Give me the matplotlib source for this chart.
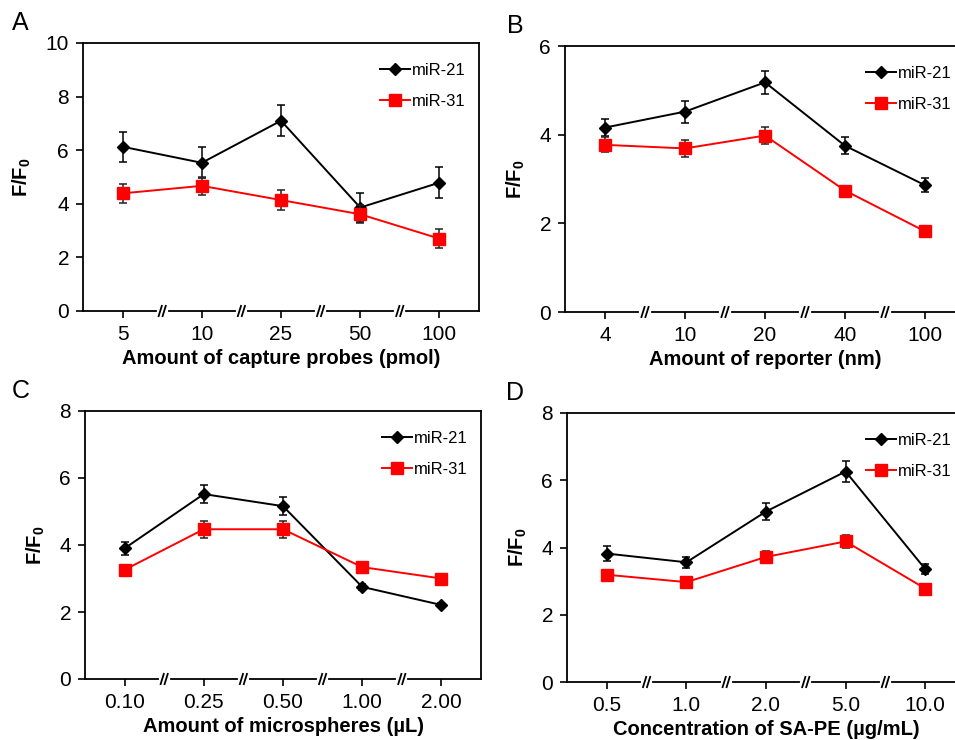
import numpy as np
import matplotlib
matplotlib.use('Agg')
import matplotlib.pyplot as plt

plt.rcParams['font.family'] = ['Liberation Sans', 'DejaVu Sans']
plt.rcParams['mathtext.fontset'] = 'custom'
plt.rcParams['mathtext.rm'] = 'Liberation Sans'
plt.rcParams['mathtext.bf'] = 'Liberation Sans:bold'

# panel A: capture probes
capture_ticks = ['5', '10', '25', '50', '100']
capture_mir21 = [6.13, 5.53, 7.10, 3.86, 4.79]
capture_mir21_err = [0.56, 0.58, 0.57, 0.54, 0.58]
capture_mir31 = [4.39, 4.67, 4.14, 3.61, 2.70]
capture_mir31_err = [0.36, 0.34, 0.37, 0.33, 0.36]

# panel B: reporter
reporter_ticks = ['4', '10', '20', '40', '100']
reporter_mir21 = [4.16, 4.52, 5.18, 3.75, 2.86]
reporter_mir21_err = [0.20, 0.25, 0.26, 0.19, 0.16]
reporter_mir31 = [3.77, 3.69, 3.98, 2.74, 1.82]
reporter_mir31_err = [0.17, 0.19, 0.20, 0.11, 0.05]

# panel C: microspheres
micro_ticks = ['0.10', '0.25', '0.50', '1.00', '2.00']
micro_mir21 = [3.90, 5.52, 5.16, 2.75, 2.21]
micro_mir21_err = [0.20, 0.27, 0.26, 0.10, 0.05]
micro_mir31 = [3.26, 4.47, 4.47, 3.34, 3.00]
micro_mir31_err = [0.15, 0.25, 0.25, 0.15, 0.08]

# panel D: SA-PE
sape_ticks = ['0.5', '1.0', '2.0', '5.0', '10.0']
sape_mir21 = [3.82, 3.56, 5.07, 6.26, 3.36]
sape_mir21_err = [0.21, 0.16, 0.25, 0.32, 0.16]
sape_mir31 = [3.19, 2.97, 3.72, 4.18, 2.78]
sape_mir31_err = [0.10, 0.10, 0.17, 0.20, 0.08]

W, H = 955, 740
fig = plt.figure(figsize=(W / 100, H / 100), dpi=100)


def px_axes(left, top, right, bottom):
    return fig.add_axes([left / W, 1 - bottom / H, (right - left) / W, (bottom - top) / H])


def panel(ax, letter, letter_dx, ticks, y21, e21, y31, e31, ymax, xlabel):
    x = np.arange(len(ticks))
    ax.errorbar(x, y21, yerr=e21, fmt='none', elinewidth=1.1, ecolor='black',
                capsize=3, capthick=1.1, zorder=3)
    ax.plot(x, y21, color='black', marker='D', markersize=6.5, lw=1.4,
            label='miR-21', zorder=3)
    ax.errorbar(x, y31, yerr=e31, fmt='none', elinewidth=1.1, ecolor='#222222',
                capsize=3, capthick=1.1, zorder=4)
    ax.plot(x, y31, color='#ff0000', marker='s', markersize=8.5, lw=1.4,
            label='miR-31', zorder=4)
    ax.set_xlim(-0.5, len(ticks) - 0.5)
    ax.set_ylim(0, ymax)
    ax.set_yticks(np.arange(0, ymax + 1, 2))
    ax.set_xticks(x)
    ax.set_xticklabels(ticks)
    ax.tick_params(direction='out', length=5, width=1.2, labelsize=15, pad=5)
    for s in ax.spines.values():
        s.set_linewidth(1.3)
    ax.set_xlabel(xlabel, fontsize=14.5, fontweight='bold', labelpad=4)
    ax.set_ylabel(r'F/F$_\mathbf{0}$', fontsize=14.5, fontweight='bold', labelpad=9)
    # axis break marks between categories
    trans = ax.get_xaxis_transform()
    for b in x[:-1] + 0.5:
        ax.plot([b - 0.045, b + 0.045], [0, 0], color='white', lw=3, transform=trans,
                clip_on=False, zorder=5)
        for off in (-0.025, 0.025):
            ax.plot([b + off - 0.02, b + off + 0.02], [-0.019, 0.019], color='black',
                    lw=1.3, transform=trans, clip_on=False, zorder=6)
    ax.legend(loc='upper right', frameon=False, fontsize=12, handlelength=1.8,
              handletextpad=0.1, labelspacing=0.95, borderaxespad=0.4,
              bbox_to_anchor=(1.0, 0.975))
    bbox = ax.get_position()
    fig.text(bbox.x0 + letter_dx / W, bbox.y1 + 20 / H, letter, fontsize=18,
             va='center', ha='left')


axA = px_axes(83, 43, 479, 311)
panel(axA, 'A', -71, capture_ticks, capture_mir21, capture_mir21_err, capture_mir31,
      capture_mir31_err, 10, 'Amount of capture probes (pmol)')

axB = px_axes(565, 46, 965, 312)
panel(axB, 'B', -58, reporter_ticks, reporter_mir21, reporter_mir21_err, reporter_mir31,
      reporter_mir31_err, 6, 'Amount of reporter (nm)')

axC = px_axes(85, 411, 481, 679)
panel(axC, 'C', -73, micro_ticks, micro_mir21, micro_mir21_err, micro_mir31,
      micro_mir31_err, 8, 'Amount of microspheres (µL)')

axD = px_axes(567, 413, 965, 682)
panel(axD, 'D', -61, sape_ticks, sape_mir21, sape_mir21_err, sape_mir31,
      sape_mir31_err, 8, 'Concentration of SA-PE (µg/mL)')

fig.savefig('out.png', dpi=100)
